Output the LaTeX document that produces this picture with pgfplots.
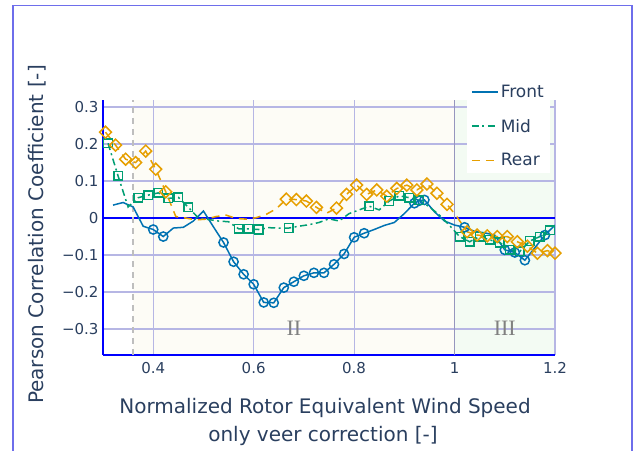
\documentclass[border=0pt]{standalone}
\usepackage{pgfplots}
\pgfplotsset{compat=1.18}
\usepackage{fontspec}
\setmainfont{DejaVu Sans}
\newfontfamily\seriffont{Liberation Serif}
\definecolor{textc}{RGB}{42,63,95}
\definecolor{gridc}{RGB}{182,182,228}
\definecolor{axblue}{RGB}{0,0,255}
\definecolor{borderc}{RGB}{110,110,235}
\definecolor{beige}{RGB}{253,252,246}
\definecolor{greenbg}{RGB}{243,251,243}
\definecolor{frontc}{RGB}{0,114,178}
\definecolor{midc}{RGB}{0,158,115}
\definecolor{rearc}{RGB}{230,159,0}
\definecolor{vline}{RGB}{150,150,190}
\definecolor{dline}{RGB}{190,190,190}
\begin{document}
\begin{tikzpicture}[x=1pt,y=1pt]
\fill[white] (0,0) rectangle (641,451);
\draw[borderc, line width=1.2pt] (13,0) -- (13,445.5) -- (632,445.5) -- (632,0);
% region backgrounds (plot area spans x 103..555, y 96..351)
\fill[beige] (133.13,96) rectangle (454.56,351);
\fill[greenbg] (454.56,96) rectangle (555,351);
\begin{axis}[
  at={(103pt,96pt)}, anchor=south west,
  scale only axis, width=452pt, height=255pt,
  xmin=0.3, xmax=1.2, ymin=-0.37, ymax=0.319,
  axis x line*=bottom, axis y line*=left,
  axis line style={axblue, line width=1.8pt, -},
  xtick={0.4,0.6,0.8,1.0,1.2}, xticklabels={0.4,0.6,0.8,1,1.2},
  ytick={-0.3,-0.2,-0.1,0,0.1,0.2,0.3},
  yticklabels={−0.3,−0.2,−0.1,0,0.1,0.2,0.3},
  major tick length=0pt,
  grid=major, major grid style={gridc, line width=1.2pt},
  tick label style={font=\fontsize{15}{18}\selectfont, text=textc},
  xticklabel style={yshift=-4pt},
  yticklabel style={xshift=-1pt},
  legend cell align=left,
  legend image code/.code={\draw[#1, line width=1.8pt] (0pt,0pt) -- (26pt,0pt);},
  legend style={at={(0.989,1.082)}, anchor=north east, fill=white, draw=none,
    font=\fontsize{17}{20}\selectfont, text=textc, row sep=16pt,
    inner xsep=4pt, inner ysep=4pt},
]
% reference lines
\addplot[axblue, line width=1.5pt, forget plot] coordinates {(0.3,0) (1.2,0)};
\addplot[vline, line width=1.5pt, forget plot] coordinates {(1.0,-0.37) (1.0,0.319)};
\addplot[dline, line width=1.3pt, dash pattern=on 6pt off 5pt, forget plot] coordinates {(0.36,-0.37) (0.36,0.319)};
\node[font=\seriffont\fontsize{22}{26}\selectfont, text=gray] at (axis cs:0.68,-0.298) {II};
\node[font=\seriffont\fontsize{22}{26}\selectfont, text=gray] at (axis cs:1.10,-0.298) {III};
% Front
\addplot[frontc, line width=1.5pt] coordinates {
(0.32,0.035)(0.34,0.042)(0.36,0.030)(0.38,-0.022)(0.40,-0.031)(0.42,-0.050)(0.44,-0.027)(0.46,-0.025)(0.48,-0.008)(0.50,0.019)(0.52,-0.024)(0.54,-0.066)(0.56,-0.118)(0.58,-0.152)(0.60,-0.179)(0.62,-0.228)(0.64,-0.229)(0.66,-0.188)(0.68,-0.172)(0.70,-0.156)(0.72,-0.148)(0.74,-0.148)(0.76,-0.125)(0.78,-0.097)(0.80,-0.052)(0.82,-0.041)(0.84,-0.031)(0.86,-0.020)(0.88,-0.012)(0.90,0.012)(0.92,0.040)(0.93,0.047)(0.94,0.049)(0.96,0.017)(0.98,-0.008)(1.00,-0.019)(1.02,-0.025)(1.04,-0.036)(1.06,-0.040)(1.08,-0.046)(1.10,-0.086)(1.12,-0.093)(1.14,-0.114)(1.16,-0.080)(1.18,-0.046)(1.20,-0.019)};
\addlegendentry{Front}
\addplot[frontc, only marks, mark=o, mark size=4.6pt, mark options={line width=1.5pt, solid}, forget plot] coordinates {
(0.40,-0.031)(0.42,-0.050)(0.54,-0.066)(0.56,-0.118)(0.58,-0.152)(0.60,-0.179)(0.62,-0.228)(0.64,-0.229)(0.66,-0.188)(0.68,-0.172)(0.70,-0.156)(0.72,-0.148)(0.74,-0.148)(0.76,-0.125)(0.78,-0.097)(0.80,-0.052)(0.82,-0.041)(0.92,0.040)(0.93,0.047)(0.94,0.049)(1.02,-0.025)(1.10,-0.086)(1.12,-0.093)(1.14,-0.114)(1.18,-0.046)};
% Mid
\addplot[midc, line width=1.5pt, dash pattern=on 7pt off 3.5pt on 2pt off 3.5pt] coordinates {
(0.31,0.202)(0.33,0.114)(0.35,0.030)(0.37,0.055)(0.39,0.062)(0.41,0.068)(0.43,0.053)(0.45,0.056)(0.47,0.029)(0.49,0.000)(0.51,-0.004)(0.53,-0.008)(0.55,-0.010)(0.57,-0.029)(0.59,-0.029)(0.61,-0.031)(0.63,-0.026)(0.65,-0.027)(0.67,-0.027)(0.69,-0.022)(0.71,-0.018)(0.73,-0.012)(0.75,-0.002)(0.77,-0.008)(0.79,0.012)(0.81,0.022)(0.83,0.032)(0.85,0.022)(0.87,0.046)(0.89,0.060)(0.91,0.055)(0.93,0.048)(0.95,0.030)(0.97,0.008)(0.99,-0.020)(1.01,-0.050)(1.03,-0.064)(1.05,-0.050)(1.07,-0.059)(1.09,-0.066)(1.11,-0.086)(1.13,-0.090)(1.15,-0.062)(1.17,-0.050)(1.19,-0.033)};
\addlegendentry{Mid}
\addplot[midc, only marks, mark=square, mark size=4.3pt, mark options={line width=1.5pt, solid}, forget plot] coordinates {
(0.31,0.202)(0.33,0.114)(0.37,0.055)(0.39,0.062)(0.41,0.068)(0.43,0.053)(0.45,0.056)(0.47,0.029)(0.57,-0.029)(0.59,-0.029)(0.61,-0.031)(0.67,-0.027)(0.83,0.032)(0.87,0.046)(0.89,0.060)(0.91,0.055)(0.93,0.048)(1.01,-0.050)(1.03,-0.064)(1.05,-0.050)(1.07,-0.059)(1.09,-0.066)(1.11,-0.086)(1.13,-0.090)(1.15,-0.062)(1.17,-0.050)(1.19,-0.033)};
% Rear
\addplot[rearc, line width=1.5pt, dash pattern=on 8pt off 6pt] coordinates {
(0.305,0.232)(0.325,0.197)(0.345,0.159)(0.365,0.150)(0.385,0.181)(0.405,0.132)(0.425,0.071)(0.445,0.004)(0.465,0.000)(0.485,-0.005)(0.505,-0.003)(0.525,0.004)(0.545,0.008)(0.565,-0.001)(0.585,-0.003)(0.605,0.001)(0.625,0.010)(0.645,0.025)(0.665,0.051)(0.685,0.050)(0.705,0.046)(0.725,0.029)(0.745,0.013)(0.765,0.027)(0.785,0.064)(0.805,0.089)(0.825,0.064)(0.845,0.076)(0.865,0.059)(0.885,0.080)(0.905,0.089)(0.925,0.076)(0.945,0.092)(0.965,0.067)(0.985,0.037)(1.005,0.003)(1.025,-0.037)(1.045,-0.046)(1.065,-0.048)(1.085,-0.050)(1.105,-0.050)(1.125,-0.064)(1.145,-0.076)(1.165,-0.095)(1.185,-0.088)(1.2,-0.095)};
\addlegendentry{Rear}
\addplot[rearc, only marks, mark=square, mark size=4.2pt, mark options={line width=1.5pt, solid, rotate=45}, forget plot] coordinates {
(0.305,0.232)(0.325,0.197)(0.345,0.159)(0.365,0.150)(0.385,0.181)(0.405,0.132)(0.425,0.071)(0.665,0.051)(0.685,0.050)(0.705,0.046)(0.725,0.029)(0.765,0.027)(0.785,0.064)(0.805,0.089)(0.825,0.064)(0.845,0.076)(0.865,0.059)(0.885,0.080)(0.905,0.089)(0.925,0.076)(0.945,0.092)(0.965,0.067)(0.985,0.037)(1.025,-0.037)(1.045,-0.046)(1.065,-0.048)(1.085,-0.050)(1.105,-0.050)(1.125,-0.064)(1.145,-0.076)(1.165,-0.095)(1.185,-0.088)(1.2,-0.095)};
\end{axis}
\node[rotate=90, anchor=base, font=\fontsize{20}{24}\selectfont, text=textc] at (43.5,216.5) {Pearson Correlation Coefficient [-]};
\node[anchor=base, font=\fontsize{20}{24}\selectfont, text=textc] at (325,37) {Normalized Rotor Equivalent Wind Speed};
\node[anchor=base, font=\fontsize{20}{24}\selectfont, text=textc] at (323,9) {only veer correction [-]};
\end{tikzpicture}
\end{document}
